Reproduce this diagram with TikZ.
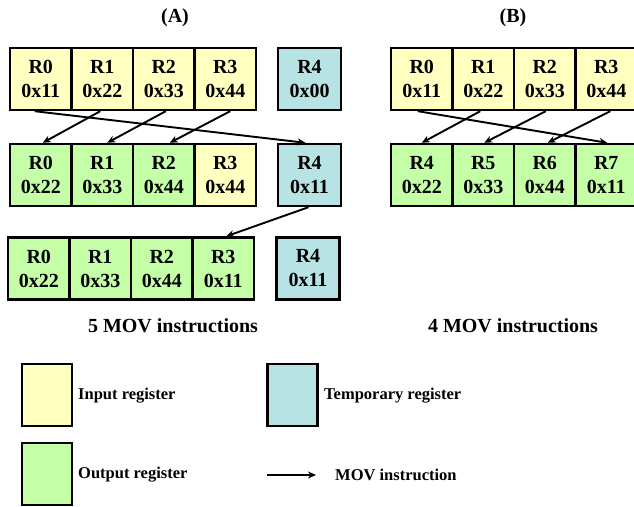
\documentclass[tikz,border=0pt]{standalone}
\usepackage{fontspec}
\setmainfont{Liberation Serif}
\usetikzlibrary{arrows.meta}
\definecolor{inyel}{RGB}{255,255,192}
\definecolor{outgrn}{RGB}{196,255,168}
\definecolor{tmpteal}{RGB}{183,227,228}
\tikzset{
  reg/.style={draw=black, line width=2.4pt, minimum width=61.5pt, minimum height=62pt, inner sep=0pt, align=center, font=\fontsize{20}{24}\selectfont\bfseries},
  inreg/.style={reg, fill=inyel},
  outreg/.style={reg, fill=outgrn},
  tmpreg/.style={reg, fill=tmpteal, minimum width=63pt},
  legbox/.style={draw=black, line width=2.4pt, minimum width=50pt, minimum height=62pt, inner sep=0pt},
  captxt/.style={font=\fontsize{20}{24}\selectfont\bfseries, inner sep=0pt},
  legtxt/.style={font=\fontsize{16.5}{20}\selectfont\bfseries, inner sep=0pt, anchor=west},
  mov/.style={line width=1.9pt, -{Stealth[length=8pt,width=7pt]}}
}
\begin{document}
\begin{tikzpicture}[x=1pt,y=-1pt]
\useasboundingbox (0,0) rectangle (634,506);
% titles
\node[captxt] (tA) at (175,18) {(A)};
\node[captxt] (tB) at (513,18) {(B)};
% Panel A row 1
\node[inreg] (a10) at (40.75,79) {R0\\0x11};
\node[inreg] (a11) at (102.25,79) {R1\\0x22};
\node[inreg] (a12) at (163.75,79) {R2\\0x33};
\node[inreg] (a13) at (225.25,79) {R3\\0x44};
\node[tmpreg] (a14) at (309.5,79) {R4\\0x00};
% Panel A row 2
\node[outreg] (a20) at (40.75,175) {R0\\0x22};
\node[outreg] (a21) at (102.25,175) {R1\\0x33};
\node[outreg] (a22) at (163.75,175) {R2\\0x44};
\node[inreg] (a23) at (225.25,175) {R3\\0x44};
\node[tmpreg] (a24) at (309.5,175) {R4\\0x11};
% Panel A row 3
\node[outreg] (a30) at (38.75,268.5) {R0\\0x22};
\node[outreg] (a31) at (100.25,268.5) {R1\\0x33};
\node[outreg] (a32) at (161.75,268.5) {R2\\0x44};
\node[outreg] (a33) at (223.25,268.5) {R3\\0x11};
\node[tmpreg] (a34) at (308,268.5) {R4\\0x11};
\node[captxt] (cA) at (173,326) {5 MOV instructions};
% Panel B row 1
\node[inreg] (b10) at (421.75,79) {R0\\0x11};
\node[inreg] (b11) at (483.25,79) {R1\\0x22};
\node[inreg] (b12) at (544.75,79) {R2\\0x33};
\node[inreg] (b13) at (606.25,79) {R3\\0x44};
% Panel B row 2
\node[outreg] (b20) at (421.75,175) {R4\\0x22};
\node[outreg] (b21) at (483.25,175) {R5\\0x33};
\node[outreg] (b22) at (544.75,175) {R6\\0x44};
\node[outreg] (b23) at (606.25,175) {R7\\0x11};
\node[captxt] (cB) at (513,326) {4 MOV instructions};
% arrows A
\draw[mov] ([xshift=-2pt]a11.south) -- ([xshift=2pt]a20.north);
\draw[mov] ([xshift=2pt]a12.south) -- ([xshift=5pt]a21.north);
\draw[mov] ([xshift=5pt]a13.south) -- ([xshift=6pt]a22.north);
\draw[mov] ([xshift=-6pt]a10.south) -- ([xshift=-4pt]a24.north);
\draw[mov] ([xshift=-1pt]a24.south) -- ([xshift=3pt]a33.north);
% arrows B
\draw[mov] ([xshift=-4pt]b10.south) -- ([xshift=1pt]b23.north);
\draw[mov] ([xshift=-3pt]b11.south) -- ([xshift=0pt]b20.north);
\draw[mov] ([xshift=1pt]b12.south) -- ([xshift=1pt]b21.north);
\draw[mov] ([xshift=4pt]b13.south) -- ([xshift=3pt]b22.north);
% legend
\node[legbox, fill=inyel] (lin) at (47,395) {};
\node[legtxt] (lintxt) at (78,396) {Input register};
\node[legbox, fill=outgrn] (lout) at (47,474) {};
\node[legtxt] (louttxt) at (78,475) {Output register};
\node[legbox, fill=tmpteal] (ltmp) at (292.5,395) {};
\node[legtxt] (ltmptxt) at (324,396) {Temporary register};
\coordinate (larr1) at (267,475);
\coordinate (larr2) at (316,475);
\draw[mov] (larr1) -- (larr2);
\node[legtxt] (lmovtxt) at (335,475) {MOV instruction};
\end{tikzpicture}
\end{document}
